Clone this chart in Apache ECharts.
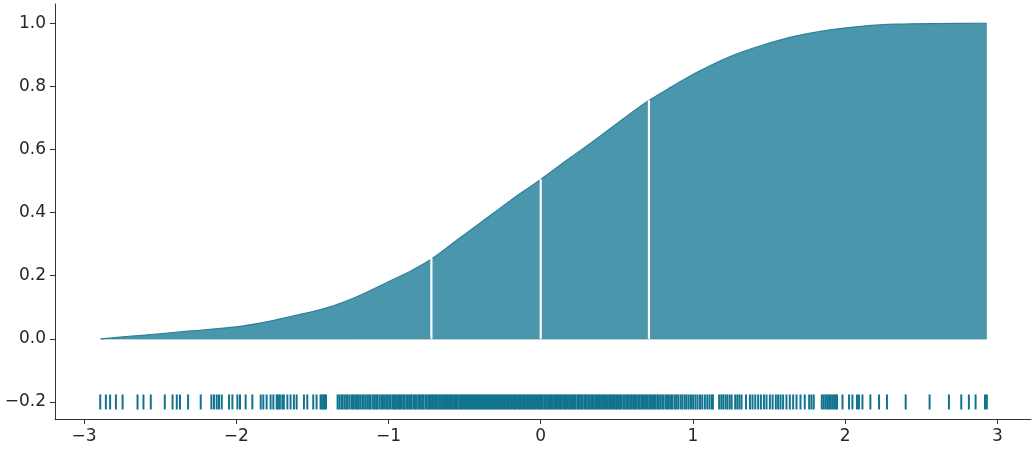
<!DOCTYPE html>
<html>
<head>
<meta charset="utf-8">
<script src="https://cdn.jsdelivr.net/npm/echarts@6/dist/echarts.min.js"></script>
<style>
html,body{margin:0;padding:0;background:#fff;}
#chart{width:1035px;height:450px;}
</style>
</head>
<body>
<div id="chart"></div>
<script>
// CDF curve
const cdfX = [-2.89, -2.6, -2.3, -2.0, -1.8, -1.6, -1.4, -1.2, -1.0, -0.85, -0.72, -0.55, -0.4, -0.2, 0.0, 0.2, 0.37, 0.55, 0.71, 0.85, 1.02, 1.24, 1.46, 1.68, 1.9, 2.12, 2.34, 2.6, 2.93];
const cdfY = [0.0, 0.012, 0.025, 0.038, 0.054, 0.075, 0.099, 0.135, 0.181, 0.216, 0.252, 0.313, 0.366, 0.438, 0.505, 0.576, 0.635, 0.70, 0.755, 0.796, 0.843, 0.894, 0.931, 0.960, 0.979, 0.991, 0.997, 0.999, 1.0];

// quartile cut positions and their probabilities
const quantX = [-0.718, 0.0, 0.711];
const quantP = [0.25, 0.5, 0.75];

// rug sample positions
const rugX = [
 -2.893, -2.856, -2.828, -2.790, -2.746, -2.648, -2.609, -2.561, -2.469, -2.418, -2.390, -2.369, -2.316, -2.233,
 -2.163, -2.146, -2.128, -2.113, -2.095, -2.047, -2.025, -1.992, -1.975, -1.938, -1.894, -1.839, -1.822, -1.800,
 -1.774, -1.756, -1.734, -1.726, -1.713, -1.697, -1.687, -1.664, -1.643, -1.621, -1.603, -1.555, -1.533, -1.494, -1.472,
 -1.446, -1.438, -1.428, -1.420, -1.410,
 -1.334, -1.322, -1.309, -1.301, -1.288, -1.276, -1.268, -1.255, -1.241, -1.233, -1.219, -1.207, -1.198, -1.186,
 -1.172, -1.163, -1.151, -1.139, -1.127, -1.118, -1.104, -1.093, -1.081, -1.072, -1.059, -1.047, -1.036, -1.024, -1.013, -1.004,
 -0.992, -0.985, -0.971, -0.962, -0.953, -0.943, -0.931, -0.924, -0.913, -0.902, -0.896, -0.883, -0.874, -0.864, -0.853, -0.847,
 -0.833, -0.826, -0.816, -0.804, -0.797, -0.787, -0.776, -0.770, -0.757, -0.749, -0.738, -0.731, -0.721, -0.712, -0.705, -0.694,
 -0.685, -0.678, -0.667, -0.659, -0.648, -0.641, -0.631, -0.622, -0.615, -0.604, -0.596, -0.587, -0.580, -0.569, -0.561, -0.552,
 -0.545, -0.534, -0.526, -0.517, -0.510, -0.499, -0.491, -0.484, -0.473, -0.465, -0.456, -0.449, -0.438, -0.429, -0.423, -0.412,
 -0.403, -0.397, -0.386, -0.377, -0.370, -0.360, -0.351, -0.344, -0.334, -0.325, -0.318, -0.307, -0.299, -0.292, -0.281, -0.272,
 -0.266, -0.255, -0.246, -0.240, -0.229, -0.220, -0.213, -0.203, -0.194, -0.187, -0.176, -0.168, -0.161, -0.150, -0.141, -0.135,
 -0.124, -0.115, -0.109, -0.098, -0.089, -0.082, -0.072, -0.063, -0.056, -0.046, -0.037, -0.030, -0.019, -0.011, -0.004,
 0.006, 0.013, 0.024, 0.031, 0.042, 0.049, 0.061, 0.068, 0.077, 0.088, 0.094, 0.105, 0.113, 0.121, 0.132, 0.139, 0.151, 0.158,
 0.166, 0.177, 0.185, 0.196, 0.203, 0.212, 0.223, 0.229, 0.241, 0.248, 0.257, 0.268, 0.274, 0.286, 0.293, 0.302, 0.313, 0.319,
 0.331, 0.338, 0.347, 0.358, 0.364, 0.376, 0.384, 0.392, 0.403, 0.410, 0.421, 0.429, 0.438, 0.449, 0.456, 0.467, 0.475, 0.484,
 0.495, 0.503, 0.514, 0.522, 0.531, 0.543, 0.551, 0.562, 0.570, 0.579, 0.591, 0.599, 0.611, 0.619, 0.628, 0.640, 0.648, 0.660,
 0.669, 0.678, 0.691, 0.699, 0.712, 0.721, 0.731, 0.744, 0.752, 0.765, 0.774, 0.785, 0.798, 0.807, 0.821, 0.831, 0.842, 0.856,
 0.866, 0.881, 0.892, 0.904, 0.919, 0.931, 0.946, 0.958, 0.972, 0.987, 1.001, 1.016, 1.030, 1.046, 1.061, 1.078, 1.094, 1.109,
 1.124, 1.131,
 1.172, 1.186, 1.199, 1.214, 1.226, 1.241, 1.254, 1.277, 1.291, 1.305, 1.319,
 1.348, 1.374, 1.391, 1.409, 1.428, 1.446, 1.466, 1.483, 1.505, 1.523, 1.544, 1.559, 1.575, 1.592, 1.614, 1.636, 1.658, 1.680,
 1.706, 1.734, 1.763, 1.778, 1.793, 1.846, 1.859, 1.872, 1.883, 1.894, 1.905, 1.916, 1.927, 1.938, 1.946, 1.982, 2.025, 2.047,
 2.077, 2.090, 2.113, 2.165, 2.222, 2.274, 2.397, 2.554, 2.681, 2.762, 2.812, 2.856, 2.918, 2.930
];
const rugLevel = -0.2;

const xTicks = [-3, -2, -1, 0, 1, 2, 3];
const yTicks = [-0.2, 0.0, 0.2, 0.4, 0.6, 0.8, 1.0];

const fillColor = '#4a97ad';
const edgeColor = '#2f8199';
const rugColor = '#12738f';
const textColor = '#262626';
const spineColor = '#333333';

const minus = s => String(s).replace('-', '\u2212');

const curveData = cdfX.map((x, i) => [x, cdfY[i]]);
const rugData = rugX.map(x => [x, rugLevel]);

const gapSeries = quantX.map((q, i) => ({
  type: 'line',
  data: [[q, 0], [q, quantP[i] + 0.006]],
  symbol: 'none',
  lineStyle: { color: '#ffffff', width: 2.2 },
  z: 5,
  silent: true,
  animation: false
}));

const chart = echarts.init(document.getElementById('chart'), null, { renderer: 'canvas' });
chart.setOption({
  animation: false,
  backgroundColor: '#ffffff',
  grid: { left: 55, right: 4, top: 4, bottom: 31, containLabel: false },
  xAxis: {
    type: 'value',
    min: -3.19,
    max: 3.22,
    splitLine: { show: false },
    axisLine: { show: true, onZero: false, lineStyle: { color: spineColor, width: 1 } },
    axisTick: { show: true, inside: false, length: 5, lineStyle: { color: spineColor }, customValues: xTicks },
    axisLabel: {
      customValues: xTicks,
      margin: 9,
      color: textColor,
      fontSize: 17,
      fontFamily: 'DejaVu Sans',
      formatter: v => minus(Math.round(v))
    }
  },
  yAxis: {
    type: 'value',
    min: -0.254,
    max: 1.061,
    splitLine: { show: false },
    axisLine: { show: true, onZero: false, lineStyle: { color: spineColor, width: 1 } },
    axisTick: { show: true, inside: false, length: 5, lineStyle: { color: spineColor }, customValues: yTicks },
    axisLabel: {
      customValues: yTicks,
      margin: 9,
      color: textColor,
      fontSize: 17,
      fontFamily: 'DejaVu Sans',
      formatter: v => minus(v.toFixed(1))
    }
  },
  series: [
    {
      type: 'line',
      data: curveData,
      smooth: 0.3,
      symbol: 'none',
      lineStyle: { color: edgeColor, width: 1.2 },
      areaStyle: { color: fillColor, opacity: 1, origin: 'auto' },
      z: 2
    },
    {
      type: 'line',
      data: [[cdfX[0], 0], [cdfX[cdfX.length - 1], 0]],
      symbol: 'none',
      lineStyle: { color: edgeColor, width: 1 },
      z: 3
    },
    ...gapSeries,
    {
      type: 'scatter',
      data: rugData,
      symbol: 'rect',
      symbolSize: [2, 15],
      itemStyle: { color: rugColor, opacity: 1 },
      z: 4
    }
  ]
});
</script>
</body>
</html>
